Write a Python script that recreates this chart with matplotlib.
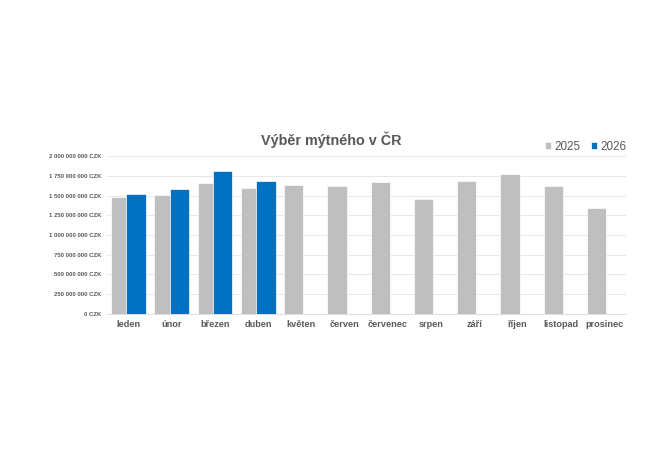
import matplotlib
matplotlib.use("Agg")
import matplotlib.pyplot as plt
import numpy as np

months = ["leden", "únor", "březen", "duben", "květen", "červen", "červenec",
          "srpen", "září", "říjen", "listopad", "prosinec"]
v2025 = [1.477e9, 1.503e9, 1.654e9, 1.591e9, 1.637e9, 1.620e9, 1.667e9,
         1.456e9, 1.688e9, 1.768e9, 1.616e9, 1.342e9]
v2026 = [1.515e9, 1.582e9, 1.806e9, 1.688e9]
yticks = [0, 250e6, 500e6, 750e6, 1000e6, 1250e6, 1500e6, 1750e6, 2000e6]
title = "Výběr mýtného v ČR"
series_names = ["2025", "2026"]

plt.rcParams['font.family'] = ['Liberation Sans', 'DejaVu Sans']
txt = "#595959"

fig = plt.figure(figsize=(6.6, 4.66), dpi=100)
ax = fig.add_axes([0.1617, 0.3262, 0.9485 - 0.1617, 0.6652 - 0.3262])

x = np.arange(len(months))
w = 0.445
off = 0.178
ax.bar(x - off, v2025, width=w, color="#BFBFBF", edgecolor="white",
       linewidth=0.5, label=series_names[0], zorder=2)
ax.bar(x[:len(v2026)] + off, v2026, width=w, color="#0070C0", edgecolor="white",
       linewidth=0.5, label=series_names[1], zorder=3)

ax.set_xlim(-0.5, len(months) - 0.5)
ax.set_ylim(0, 2e9)
ax.set_yticks(yticks)
ax.set_yticklabels([f"{v:,.0f}".replace(",", " ") + " CZK" for v in yticks],
                   fontsize=4.3, fontweight="bold", color=txt)
ax.set_xticks(x)
ax.set_xticklabels(months, fontsize=6.6, fontweight="bold", color=txt)
ax.tick_params(axis="y", length=0, pad=4)
ax.tick_params(axis="x", length=0, pad=4.5)
ax.grid(axis="y", color="#E3E3E3", linewidth=0.6, zorder=0)
ax.set_axisbelow(True)
for s in ["top", "right", "left"]:
    ax.spines[s].set_visible(False)
ax.spines["bottom"].set_color("#D9D9D9")
ax.spines["bottom"].set_linewidth(0.6)

fig.text(0.5015, 1 - 140 / 466, title, ha="center", va="center",
         fontsize=10.4, fontweight="bold", color=txt)

leg = ax.legend(loc="lower right", bbox_to_anchor=(1.0, 1.022), ncol=2,
                frameon=False, fontsize=8.4, handlelength=0.5, handleheight=0.5,
                handletextpad=0.3, columnspacing=0.9, borderaxespad=0,
                borderpad=0)
for t in leg.get_texts():
    t.set_color(txt)

fig.savefig("out.png", dpi=100, facecolor="white")
